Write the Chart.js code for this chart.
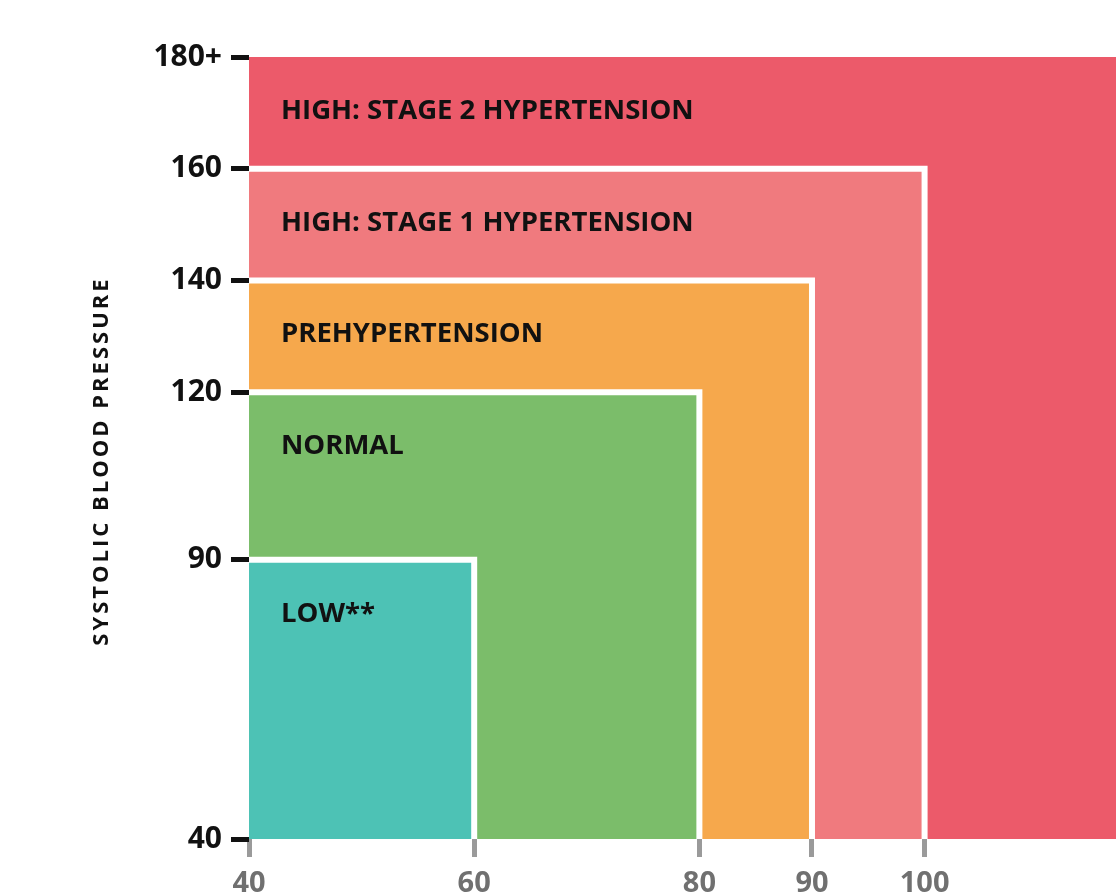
<!DOCTYPE html>
<html>
<head>
<meta charset="utf-8">
<script src="https://cdn.jsdelivr.net/npm/chart.js@4"></script>
<style>
  html, body { margin: 0; padding: 0; background: #fff; }
  #wrap { width: 1116px; height: 895px; position: relative; }
</style>
</head>
<body>
<div id="wrap"><canvas id="bpChart"></canvas></div>
<script>
// blood pressure zones, smallest first
const zoneNames = ["LOW**", "NORMAL", "PREHYPERTENSION", "HIGH: STAGE 1 HYPERTENSION", "HIGH: STAGE 2 HYPERTENSION"];
const systolicTop = [90, 120, 140, 160, 180];
const diastolicRight = [60, 80, 90, 100, 117];
const yTicks = [40, 90, 120, 140, 160, 180];
const xTicks = [40, 60, 80, 90, 100];
const yTitle = "SYSTOLIC BLOOD PRESSURE";

const zoneColors = ["#4dc2b5", "#7bbd6a", "#f6a84c", "#f07a7e", "#ec5a6a"];

const zoneLabelPlugin = {
  id: "zoneLabels",
  afterDatasetsDraw: function (chart) {
    const ctx = chart.ctx;
    const xs = chart.scales.x;
    const ys = chart.scales.y;
    ctx.save();
    ctx.fillStyle = "#111";
    ctx.font = "bold 27.5px 'Open Sans'";
    ctx.textBaseline = "middle";
    ctx.textAlign = "left";
    zoneNames.forEach(function (name, i) {
      const px = xs.getPixelForValue(40) + 32;
      const py = ys.getPixelForValue(systolicTop[i]) + 54;
      ctx.fillText(name, px, py);
    });
    ctx.restore();
  },
  afterDraw: function (chart) {
    // spaced-out axis title, drawn by hand
    const ctx = chart.ctx;
    const area = chart.chartArea;
    ctx.save();
    ctx.translate(102, (area.top + area.bottom) / 2 + 13);
    ctx.rotate(-Math.PI / 2);
    ctx.fillStyle = "#111";
    ctx.font = "bold 22px 'Open Sans'";
    ctx.letterSpacing = "3px";
    ctx.textAlign = "center";
    ctx.textBaseline = "middle";
    ctx.fillText(yTitle, 0, 0);
    ctx.restore();
  },
};

const datasets = zoneNames.map(function (name, i) {
  const isOuter = i === zoneNames.length - 1;
  return {
    label: name,
    data: [
      { x: 40, y: systolicTop[i] },
      { x: diastolicRight[i], y: systolicTop[i] },
      { x: diastolicRight[i], y: 40 },
    ],
    showLine: true,
    borderColor: isOuter ? "transparent" : "#fff",
    borderWidth: isOuter ? 0 : 6,
    borderJoinStyle: "miter",
    backgroundColor: zoneColors[i],
    fill: "origin",
    pointRadius: 0,
    pointHoverRadius: 0,
    tension: 0,
    clip: 0,
    order: i + 1,
  };
});

new Chart(document.getElementById("bpChart"), {
  type: "scatter",
  data: { datasets: datasets },
  plugins: [zoneLabelPlugin],
  options: {
    responsive: true,
    maintainAspectRatio: false,
    animation: false,
    layout: { padding: { top: 57, right: 0, left: 0, bottom: 0 } },
    plugins: {
      legend: { display: false },
      tooltip: { enabled: false },
    },
    scales: {
      x: {
        type: "linear",
        min: 40,
        max: 117,
        afterBuildTicks: function (scale) {
          scale.ticks = xTicks.map(function (v) { return { value: v }; });
        },
        afterFit: function (scale) { scale.height = 56; },
        border: { display: false },
        grid: {
          drawOnChartArea: false,
          drawTicks: true,
          tickLength: 18,
          tickWidth: 5,
          tickColor: "#9a9a9a",
        },
        ticks: {
          color: "#707070",
          padding: 9,
          maxRotation: 0,
          font: { family: "Open Sans", size: 29, weight: "bold" },
        },
      },
      y: {
        type: "linear",
        min: 40,
        max: 180,
        afterBuildTicks: function (scale) {
          scale.ticks = yTicks.map(function (v) { return { value: v }; });
        },
        afterFit: function (scale) { scale.width = 249; },
        border: { display: false },
        grid: {
          drawOnChartArea: false,
          drawTicks: true,
          tickLength: 18,
          tickWidth: 5,
          tickColor: "#111",
        },
        ticks: {
          color: "#111",
          padding: 9,
          font: { family: "Open Sans", size: 30, weight: "bold" },
          callback: function (value) {
            return value === 180 ? "180+" : value;
          },
        },
      },
    },
  },
});
</script>
</body>
</html>
